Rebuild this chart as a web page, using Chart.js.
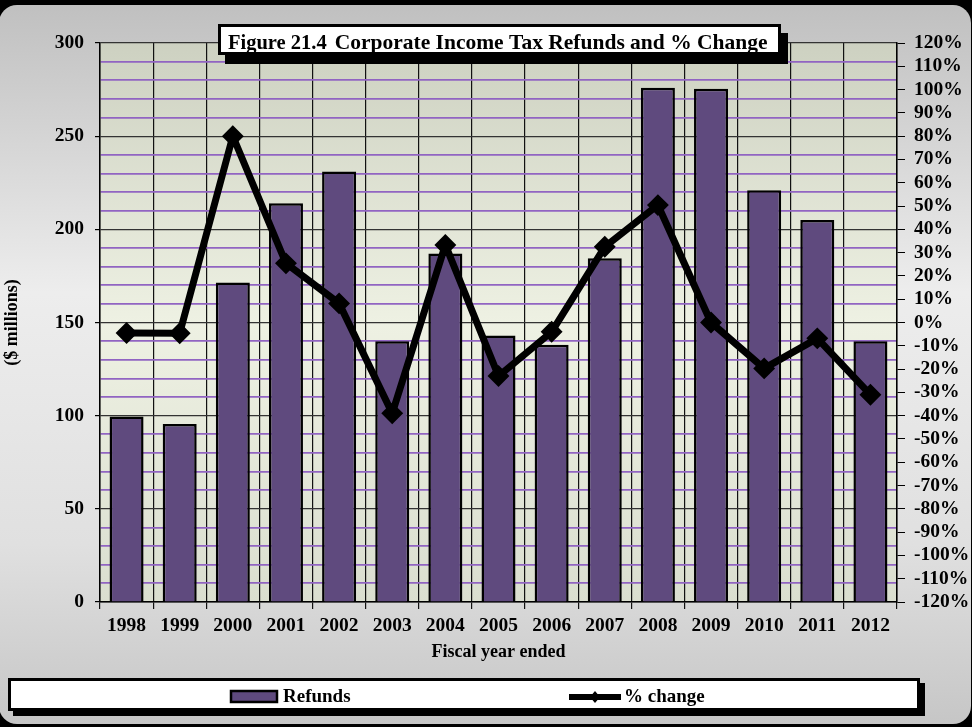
<!DOCTYPE html>
<html lang="en">
<head>
<meta charset="utf-8">
<title>Corporate Income Tax Refunds and % Change</title>
<style>
html, body { margin: 0; padding: 0; background: #000; }
#wrap { width: 972px; height: 727px; }
</style>
</head>
<body>
<div id="wrap"><canvas id="canvas" width="972" height="727"></canvas></div>
<script src="https://cdn.jsdelivr.net/npm/chart.js"></script>
<script>

let YEARS = ["1998", "1999", "2000", "2001", "2002", "2003", "2004", "2005",
             "2006", "2007", "2008", "2009", "2010", "2011", "2012"]

// refunds, $ millions
let REFUNDS = [99.5, 95.5, 171.5, 214, 231, 140, 187, 143, 138, 184.5, 276, 275.5, 221, 205, 140]

// year over year % change
let PCT_CHANGE = [-4.5, -4.6, 80, 25.4, 8.2, -39, 33.3, -23, -4, 32.5, 50.4, 0, -19.7, -6.8, -31]

let TITLE_LEAD = "Figure 21.4"
let TITLE_MAIN = "Corporate Income Tax Refunds and % Change"

let SERIF = "'Liberation Serif', 'Times New Roman', serif"
let PURPLE = "#5f4a7e"

function font(size) {
    return { family: SERIF, weight: "bold", size: size }
}

// black bordered white box with a drop shadow down and to the right
function box(c, x, y, w, h, border, sx, sy) {
    c.fillStyle = "#000"
    c.fillRect(x + sx, y + sy, w, h)
    c.fillRect(x, y, w, h)
    c.fillStyle = "#fff"
    c.fillRect(x + border, y + border, w - 2 * border, h - 2 * border)
}

let decor = {
    id: "decor",
    beforeDraw(chart) {
        let c = chart.ctx
        let a = chart.chartArea
        c.save()
        c.fillStyle = "#000"
        c.fillRect(0, 0, chart.width, chart.height)

        let g = c.createLinearGradient(0, 5, 0, 724)
        g.addColorStop(0, "#c0c0c0")
        g.addColorStop(0.4, "#ededed")
        g.addColorStop(0.75, "#e0e0e0")
        g.addColorStop(1, "#c6c6c6")
        c.fillStyle = g
        c.beginPath()
        c.roundRect(-1, 5, 972, 719, 18)
        c.fill()

        let p = c.createLinearGradient(0, a.top, 0, a.bottom)
        p.addColorStop(0, "#cdd1c1")
        p.addColorStop(0.5, "#eef1e3")
        p.addColorStop(1, "#dadecf")
        c.fillStyle = p
        c.fillRect(a.left, a.top, a.right - a.left, a.bottom - a.top)
        c.restore()
    },
    afterDraw(chart) {
        let c = chart.ctx
        c.save()

        // title
        box(c, 218, 24, 563, 31, 3, 7, 9)
        c.fillStyle = "#000"
        c.textBaseline = "alphabetic"
        c.textAlign = "left"
        c.font = "bold 20.5px " + SERIF
        c.fillText(TITLE_LEAD, 228, 49)
        let lead = c.measureText(TITLE_LEAD).width
        c.font = "bold 21.5px " + SERIF
        c.fillText(TITLE_MAIN, 228 + lead + 8, 49)

        // legend
        box(c, 8, 678, 912, 33, 3, 5, 5)
        let [bars, line] = chart.data.datasets
        c.textBaseline = "middle"
        c.font = "bold 19px " + SERIF

        c.fillStyle = bars.backgroundColor
        c.fillRect(231, 691, 46, 11)
        c.strokeStyle = "#000"
        c.lineWidth = 2.5
        c.strokeRect(231, 691, 46, 11)
        c.fillStyle = "#000"
        c.fillText(bars.label, 283, 697)

        c.strokeStyle = line.borderColor
        c.lineWidth = 6
        c.beginPath()
        c.moveTo(569, 697)
        c.lineTo(621, 697)
        c.stroke()
        c.beginPath()
        c.moveTo(595, 691)
        c.lineTo(600, 697)
        c.lineTo(595, 703)
        c.lineTo(590, 697)
        c.closePath()
        c.fill()
        c.fillText(line.label, 624, 697)

        c.restore()
    }
}

let ctx = document.getElementById("canvas")

let chart = new Chart(ctx, {
    data: {
        labels: YEARS,
        datasets: [
            {
                type: "bar",
                label: "Refunds",
                data: REFUNDS,
                yAxisID: "y",
                backgroundColor: PURPLE,
                borderColor: "#000",
                borderWidth: 2.5,
                barPercentage: 0.64,
                categoryPercentage: 1,
                order: 1,
            },
            {
                type: "line",
                label: "% change",
                data: PCT_CHANGE,
                yAxisID: "y1",
                borderColor: "#000",
                backgroundColor: "#000",
                borderWidth: 7,
                pointStyle: "rectRot",
                pointRadius: 6,
                pointBackgroundColor: "#000",
                pointBorderColor: "#000",
                tension: 0,
                order: 0,
            },
        ]
    },
    options: {
        responsive: false,
        devicePixelRatio: 1,
        animation: false,
        layout: { padding: { top: 43, left: 0, right: 0, bottom: 0 } },
        plugins: {
            legend: { display: false },
            tooltip: { enabled: false },
            title: { display: false },
        },
        scales: {
            x: {
                offset: true,
                grid: { offset: true, color: "#111", lineWidth: 1.2, tickLength: 7, tickColor: "#111" },
                border: { color: "#000", width: 1.5 },
                ticks: { color: "#000", font: font(19.5), padding: 5, maxRotation: 0, autoSkip: false },
                title: {
                    display: true,
                    text: "Fiscal year ended",
                    color: "#000",
                    font: font(18),
                    padding: { top: 0, bottom: 64 },
                },
                afterFit: s => { s.height = 125 },
            },
            y: {
                position: "left",
                min: 0,
                max: 300,
                ticks: {
                    stepSize: 10,
                    maxTicksLimit: 100,
                    autoSkip: false,
                    color: "#000",
                    font: font(19.5),
                    padding: 11,
                    callback: v => v % 50 == 0 ? v : "",
                },
                grid: {
                    color: c => c.tick.value % 50 == 0 ? "#333" : "#9164c2",
                    lineWidth: c => c.tick.value % 50 == 0 ? 1.2 : 1.8,
                    tickLength: 5,
                    tickColor: c => c.tick.value % 50 == 0 ? "#000" : "rgba(0,0,0,0)",
                },
                border: { color: "#000", width: 1.5 },
                title: {
                    display: true,
                    text: "($ millions)",
                    color: "#000",
                    font: font(18),
                    padding: { top: 2, bottom: 0 },
                },
                afterFit: s => { s.width = 100 },
            },
            y1: {
                position: "right",
                min: -120,
                max: 120,
                ticks: {
                    stepSize: 10,
                    maxTicksLimit: 100,
                    autoSkip: false,
                    color: "#000",
                    font: font(19.5),
                    padding: 9,
                    callback: v => v + "%",
                },
                grid: { drawOnChartArea: false, tickLength: 8, tickColor: "#000" },
                border: { color: "#000", width: 1.5 },
                afterFit: s => { s.width = 75 },
            },
        },
    },
    plugins: [decor],
})

</script>
</body>
</html>
